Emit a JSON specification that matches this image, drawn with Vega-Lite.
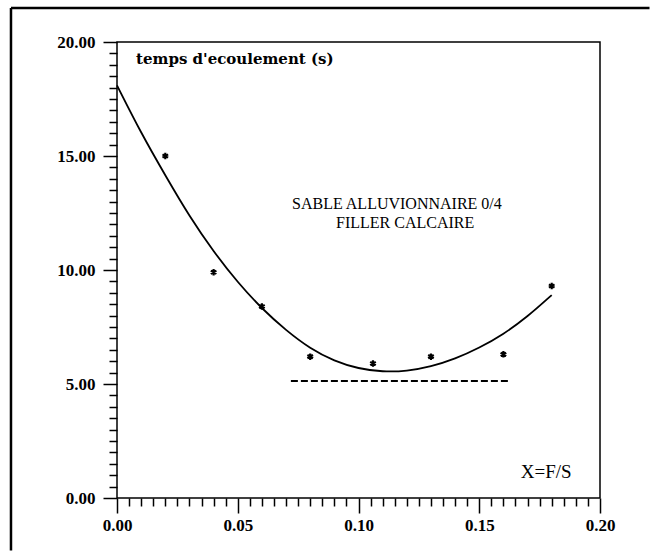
{
  "$schema": "https://vega.github.io/schema/vega-lite/v6.json",
  "width": 483,
  "height": 456,
  "autosize": {"type": "none"},
  "padding": {"left": 117, "top": 42, "right": 57, "bottom": 58},
  "background": "white",
  "config": {
    "view": {"stroke": "black", "strokeWidth": 1.5},
    "axis": {"domain": false, "grid": false, "tickColor": "black", "tickWidth": 1.5,
      "labelColor": "black", "labelFont": "Liberation Serif", "labelFontWeight": "bold", "labelFontSize": 17}
  },
  "datasets": {
    "curve": [
      {"x": 0, "y": 18.1}, {"x": 0.01, "y": 16.0}, {"x": 0.02, "y": 14.15}, {"x": 0.03, "y": 12.35},
      {"x": 0.04, "y": 10.8}, {"x": 0.05, "y": 9.45}, {"x": 0.06, "y": 8.3}, {"x": 0.07, "y": 7.35},
      {"x": 0.08, "y": 6.55}, {"x": 0.09, "y": 6.0}, {"x": 0.10, "y": 5.67}, {"x": 0.11, "y": 5.53},
      {"x": 0.12, "y": 5.56}, {"x": 0.13, "y": 5.76}, {"x": 0.14, "y": 6.1}, {"x": 0.15, "y": 6.58},
      {"x": 0.16, "y": 7.18}, {"x": 0.17, "y": 7.95}, {"x": 0.18, "y": 8.9}
    ],
    "pts": [
      {"x": 0.02, "y": 15.0}, {"x": 0.04, "y": 9.9}, {"x": 0.06, "y": 8.4}, {"x": 0.08, "y": 6.2},
      {"x": 0.106, "y": 5.9}, {"x": 0.13, "y": 6.2}, {"x": 0.16, "y": 6.3}, {"x": 0.18, "y": 9.3}
    ],
    "dash": [
      {"x": 0.072, "y": 5.13}, {"x": 0.162, "y": 5.13}
    ],
    "notes": [
      {"x": 0.0079, "y": 19.04, "label": "temps d'ecoulement (s)", "kind": "title"},
      {"x": 0.1159, "y": 12.9, "label": "SABLE ALLUVIONNAIRE 0/4", "kind": "legend"},
      {"x": 0.1193, "y": 12.06, "label": "FILLER CALCAIRE", "kind": "legend"},
      {"x": 0.1672, "y": 0.88, "label": "X=F/S", "kind": "xlabel"}
    ]
  },
  "encoding": {
    "x": {
      "field": "x", "type": "quantitative",
      "scale": {"domain": [0, 0.2], "nice": false, "zero": false},
      "axis": {
        "title": null,
        "values": [0, 0.005, 0.01, 0.015, 0.02, 0.025, 0.03, 0.035, 0.04, 0.045, 0.05, 0.055, 0.06, 0.065, 0.07, 0.075, 0.08, 0.085, 0.09, 0.095, 0.1, 0.105, 0.11, 0.115, 0.12, 0.125, 0.13, 0.135, 0.14, 0.145, 0.15, 0.155, 0.16, 0.165, 0.17, 0.175, 0.18, 0.185, 0.19, 0.195, 0.2],
        "tickSize": {"condition": {"test": "abs(datum.value*20 - round(datum.value*20)) < 0.0001", "value": 15}, "value": 8},
        "labelExpr": "abs(datum.value*20 - round(datum.value*20)) < 0.0001 ? format(datum.value, '.2f') : ''",
        "labelPadding": 4, "labelDx": -3, "labelFlush": false, "labelOverlap": false
      }
    },
    "y": {
      "field": "y", "type": "quantitative",
      "scale": {"domain": [0, 20], "nice": false, "zero": false},
      "axis": {
        "title": null,
        "values": [0, 0.5, 1, 1.5, 2, 2.5, 3, 3.5, 4, 4.5, 5, 5.5, 6, 6.5, 7, 7.5, 8, 8.5, 9, 9.5, 10, 10.5, 11, 11.5, 12, 12.5, 13, 13.5, 14, 14.5, 15, 15.5, 16, 16.5, 17, 17.5, 18, 18.5, 19, 19.5, 20],
        "tickSize": {"condition": {"test": "datum.value % 5 === 0", "value": 14}, "value": 8},
        "labelExpr": "datum.value % 5 === 0 ? format(datum.value, '.2f') : ''",
        "labelPadding": 8, "labelFlush": false, "labelOverlap": false
      }
    }
  },
  "layer": [
    {
      "data": {"name": "curve"},
      "mark": {"type": "line", "color": "black", "strokeWidth": 1.8, "interpolate": "basis"}
    },
    {
      "data": {"name": "dash"},
      "mark": {"type": "line", "color": "black", "strokeWidth": 2, "strokeDash": [7, 3]}
    },
    {
      "data": {"name": "pts"},
      "mark": {"type": "point", "shape": "M0,-1L0,1M-0.87,-0.5L0.87,0.5M-0.87,0.5L0.87,-0.5", "size": 42, "stroke": "black", "strokeWidth": 2.2, "filled": false, "opacity": 1}
    },
    {
      "data": {"name": "notes"},
      "transform": [{"filter": "datum.kind === 'title'"}],
      "mark": {"type": "text", "font": "DejaVu Serif", "fontWeight": "bold", "fontSize": 15, "align": "left", "baseline": "alphabetic", "color": "black"},
      "encoding": {"text": {"field": "label"}}
    },
    {
      "data": {"name": "notes"},
      "transform": [{"filter": "datum.kind === 'legend'"}],
      "mark": {"type": "text", "font": "Liberation Serif", "fontSize": 16, "align": "center", "baseline": "middle", "color": "black"},
      "encoding": {"text": {"field": "label"}}
    },
    {
      "data": {"name": "notes"},
      "transform": [{"filter": "datum.kind === 'xlabel'"}],
      "mark": {"type": "text", "font": "Liberation Serif", "fontSize": 19, "align": "left", "baseline": "alphabetic", "color": "black"},
      "encoding": {"text": {"field": "label"}}
    },
    {
      "data": {"name": "notes"},
      "transform": [{"filter": "datum.kind === 'title'"}],
      "mark": {"type": "rule", "color": "black", "strokeWidth": 2.5},
      "encoding": {
        "x": {"datum": -0.0439, "type": "quantitative"},
        "y": {"datum": 21.49, "type": "quantitative"},
        "y2": {"datum": -2.3}
      }
    },
    {
      "data": {"name": "notes"},
      "transform": [{"filter": "datum.kind === 'title'"}],
      "mark": {"type": "rule", "color": "black", "strokeWidth": 2.5},
      "encoding": {
        "x": {"datum": -0.0439, "type": "quantitative"},
        "x2": {"datum": 0.2205},
        "y": {"datum": 21.49, "type": "quantitative"}
      }
    }
  ]
}
